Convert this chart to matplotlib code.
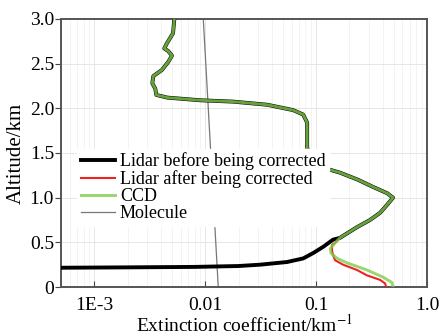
import numpy as np
import matplotlib
matplotlib.use('Agg')
import matplotlib.pyplot as plt
from matplotlib.ticker import FixedLocator, FixedFormatter, LogLocator, NullFormatter

plt.rcParams['font.family'] = ['Liberation Serif', 'DejaVu Serif']
plt.rcParams['mathtext.fontset'] = 'stix'

# common profile above ~0.55 km (all three retrievals coincide)
alt_top = [3.0, 2.84, 2.73, 2.67, 2.64, 2.59, 2.52, 2.43, 2.36, 2.28, 2.22, 2.15, 2.12,
           2.09, 2.075, 2.04, 1.98, 1.93, 1.84, 1.72, 1.57, 1.45, 1.35, 1.28, 1.2,
           1.12, 1.05, 1.0, 0.92, 0.83, 0.75, 0.67, 0.6, 0.55]
ext_top = [0.00526, 0.00512, 0.00452, 0.00427, 0.00464, 0.00501, 0.00464, 0.00407,
           0.00340, 0.00333, 0.00354, 0.00362, 0.00455, 0.00902, 0.0179, 0.0362,
           0.0621, 0.0764, 0.0830, 0.0830, 0.0830, 0.086, 0.105, 0.164, 0.239,
           0.326, 0.437, 0.494, 0.437, 0.377, 0.306, 0.234, 0.190, 0.164]

# lidar before correction, lower part
alt_before = [0.53, 0.45, 0.38, 0.32, 0.28, 0.25, 0.235, 0.225, 0.22, 0.215]
ext_before = [0.142, 0.116, 0.094, 0.0764, 0.0548, 0.0313, 0.02, 0.008, 0.002, 0.0004]

# lidar after correction, lower part
alt_after = [0.5, 0.47, 0.41, 0.36, 0.30, 0.25, 0.19, 0.13, 0.08, 0.04, 0.0]
ext_after = [0.150, 0.139, 0.139, 0.142, 0.148, 0.175, 0.234, 0.288, 0.377, 0.419, 0.428]

# CCD, lower part
alt_ccd = [0.5, 0.43, 0.38, 0.32, 0.27, 0.19, 0.11, 0.05, 0.0]
ext_ccd = [0.150, 0.134, 0.136, 0.155, 0.190, 0.288, 0.402, 0.484, 0.494]

# molecular extinction
alt_mol = [0.0, 3.0]
ext_mol = [0.0131, 0.0096]

fig = plt.figure(figsize=(4.44, 3.36), dpi=100)
ax = fig.add_axes([0.1374, 0.1458, 0.8243, 0.7977])

ax.plot(ext_top + ext_before, alt_top + alt_before, color='black', lw=2.8,
        label='Lidar before being corrected', zorder=4)
ax.plot(ext_top + ext_after, alt_top + alt_after, color='#ee2222', lw=1.5,
        label='Lidar after being corrected', zorder=3)
ax.plot(ext_top + ext_ccd, alt_top + alt_ccd, color='#80cc4a', lw=2.1, alpha=0.8,
        label='CCD', zorder=5)
ax.plot(ext_mol, alt_mol, color='#777777', lw=0.9, label='Molecule', zorder=2)

ax.set_xscale('log')
ax.set_xlim(5e-4, 1.0)
ax.set_ylim(0, 3.0)

ax.xaxis.set_major_locator(FixedLocator([1e-3, 1e-2, 1e-1, 1.0]))
ax.xaxis.set_major_formatter(FixedFormatter(['1E-3', '0.01', '0.1', '1.0']))
ax.xaxis.set_minor_locator(LogLocator(base=10, subs=np.arange(2, 10)))
ax.xaxis.set_minor_formatter(NullFormatter())
ax.yaxis.set_major_locator(FixedLocator([0, 0.5, 1.0, 1.5, 2.0, 2.5, 3.0]))
ax.yaxis.set_major_formatter(FixedFormatter(['0', '0.5', '1.0', '1.5', '2.0', '2.5', '3.0']))

ax.grid(which='major', color='#e6e6e6', lw=0.7)
ax.grid(which='minor', axis='x', color='#f1f1f1', lw=0.6)
ax.set_axisbelow(True)

ax.tick_params(axis='x', which='major', direction='in', length=4, labelsize=14,
               color='#444444', pad=7)
ax.tick_params(axis='x', which='minor', length=0)
ax.tick_params(axis='y', direction='out', length=4, labelsize=14, color='#444444', pad=1)
for s in ax.spines.values():
    s.set_color('#555555')
    s.set_linewidth(1.4)

ax.set_xlabel('Extinction coefficient/km$^{-1}$', fontsize=14)
ax.xaxis.set_label_coords(0.5, -0.1)
ax.set_ylabel('Altitude/km', fontsize=15)
ax.yaxis.set_label_coords(-0.095, 0.5)

leg = ax.legend(loc='upper left', bbox_to_anchor=(0.045, 0.515), fontsize=13,
                frameon=True, framealpha=1, edgecolor='white', fancybox=False,
                handlelength=1.9, handletextpad=0.25, labelspacing=0.0,
                borderpad=0.2, borderaxespad=0)
leg.set_zorder(6)

fig.savefig('out.png', dpi=100)
